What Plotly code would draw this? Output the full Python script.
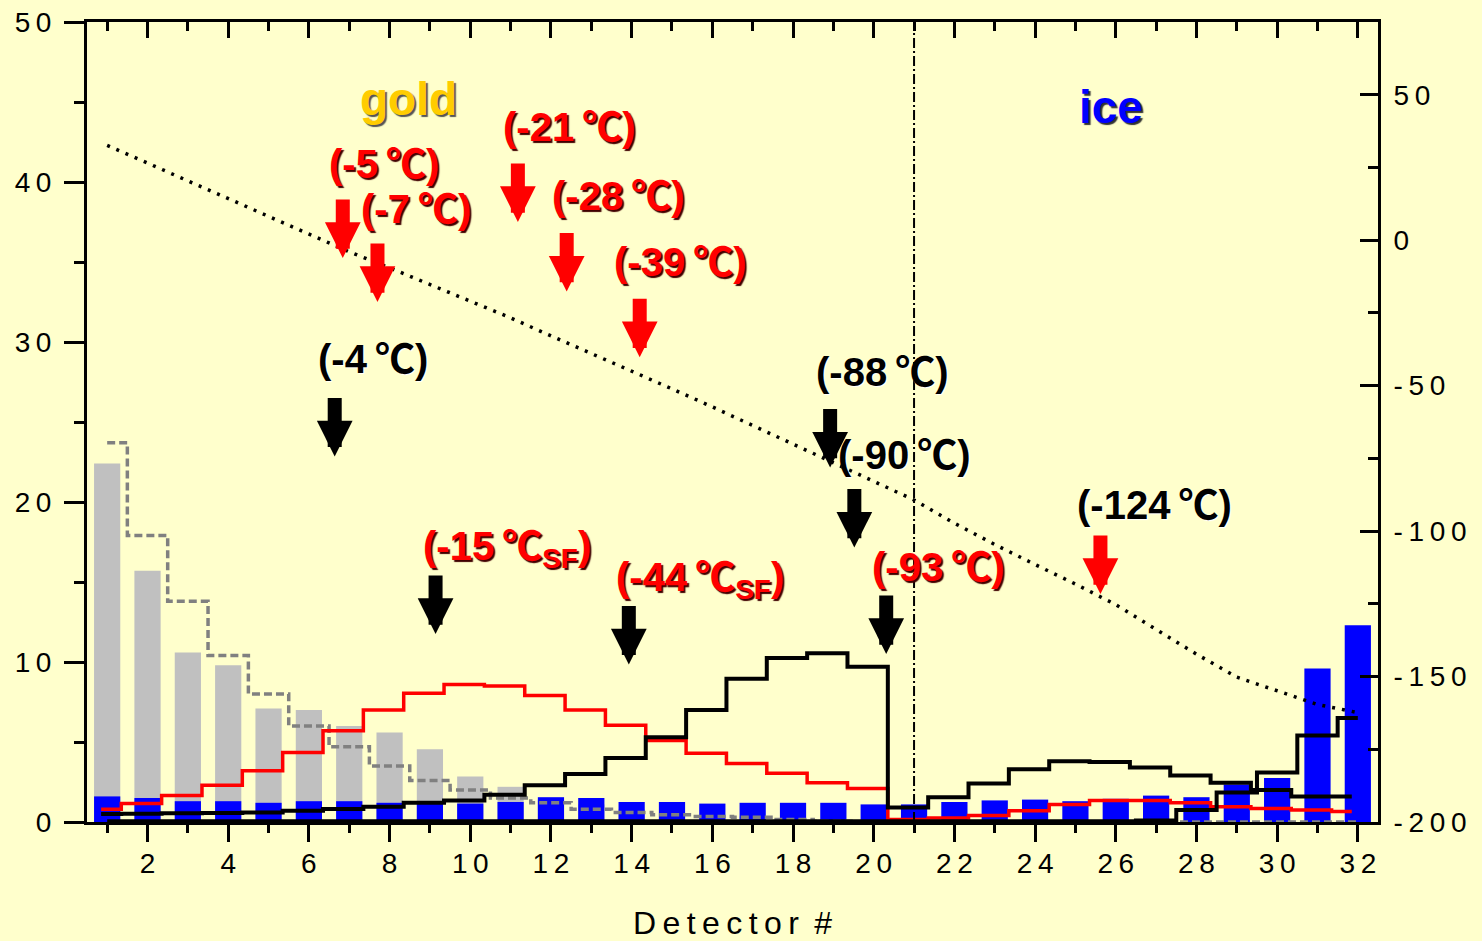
import plotly.graph_objects as go

# ---------------------------------------------------------------- data
detectors = list(range(1, 33))

# grey histogram (gold) and its dashed model staircase
gold_counts = [22.4, 15.7, 10.6, 9.8, 7.1, 7.0, 6.0, 5.6, 4.55, 2.85, 2.2,
               1.4, 1.1, 0.8, 0.6, 0.45, 0.35, 0.25, 0.1, 0.05, 0.0, 0.0,
               0.0, 0.0, 0.0, 0.0, 0.0, 0.0, 0.0, 0.0, 0.0, 0.0]
gold_model = [23.7, 17.9, 13.8, 10.4, 8.0, 6.0, 4.7, 3.5, 2.6, 2.0, 1.5,
              1.2, 0.8, 0.6, 0.45, 0.35, 0.3, 0.15, 0.05, 0.0, 0.0, 0.0,
              0.0, 0.0, 0.0, 0.0, 0.0, 0.0, 0.0, 0.0, 0.0, 0.0]

# blue histogram (ice)
ice_counts = [1.6, 1.5, 1.3, 1.3, 1.2, 1.3, 1.3, 1.2, 1.25, 1.15, 1.25,
              1.55, 1.5, 1.25, 1.25, 1.15, 1.2, 1.2, 1.2, 1.1, 1.1, 1.25,
              1.35, 1.4, 1.3, 1.45, 1.65, 1.55, 2.35, 2.75, 9.6, 12.3]

# step spectra
red_spectrum = [0.8, 1.15, 1.65, 2.3, 3.2, 4.35, 5.7, 7.0, 8.05, 8.6, 8.5,
                7.9, 7.0, 6.05, 5.1, 4.3, 3.65, 3.05, 2.45, 2.1, 0.15, 0.25,
                0.4, 0.7, 1.1, 1.35, 1.35, 1.2, 0.95, 0.85, 0.75, 0.65]
black_spectrum = [0.5, 0.52, 0.55, 0.57, 0.6, 0.7, 0.82, 0.95, 1.2, 1.35, 1.7,
                  2.3, 3.0, 4.0, 5.3, 7.0, 8.95, 10.25, 10.55, 9.7, 0.9, 1.55,
                  2.4, 3.3, 3.8, 3.75, 3.4, 2.9, 2.45, 2.0, 1.6, 1.6]
ice_spectrum = [0.05] * 26 + [0.1, 0.75, 1.85, 3.1, 5.4, 6.5]

# temperature profile along the detector row (right axis, deg C)
temperature = [32.6, 26.5, 20.4, 14.3, 8.2, 2.0, -4.0, -9.5, -15.2, -20.8,
               -26.7, -32.9, -38.9, -45.0, -51.1, -57.3, -63.7, -70.2, -76.6,
               -82.9, -89.3, -97.3, -104.6, -111.5, -118.2, -125.3, -133.9,
               -142.3, -150.2, -154.8, -159.6, -162.4]

x_ticks = list(range(2, 33, 2))
y_left_ticks = [0, 10, 20, 30, 40, 50]
y_right_ticks = [-200, -150, -100, -50, 0, 50]

# (text, detector, counts) for the temperature labels
red_labels = [("(-5℃)", 7.85, 41.3), ("(-7℃)", 8.65, 38.5),
              ("(-21℃)", 12.44, 43.6), ("(-28℃)", 13.66, 39.3),
              ("(-39℃)", 15.2, 35.2), ("(-15℃<sub>SF</sub>)", 10.9, 17.4),
              ("(-44℃<sub>SF</sub>)", 15.7, 15.45), ("(-93℃)", 21.6, 16.1)]
black_labels = [("(-4℃)", 7.58, 29.1), ("(-88℃)", 20.21, 28.3),
                ("(-90℃)", 20.76, 23.1), ("(-124℃)", 26.96, 20.0)]
# arrow tips (detector, counts)
red_arrows = [(6.84, 35.25), (7.7, 32.5), (11.18, 37.5), (12.39, 33.15),
              (14.2, 29.05), (25.62, 14.25)]
black_arrows = [(6.64, 22.85), (9.14, 11.75), (13.93, 9.85), (18.92, 22.15),
                (19.52, 17.15), (20.31, 10.5)]

# ---------------------------------------------------------------- style
BG = "#FFFFCC"
AXIS_FONT = "Liberation Sans, Arial, sans-serif"
LABEL_FONT = "Liberation Sans, Arial, sans-serif"
STEP_SHIFT = -0.15  # spectra are drawn slightly left of the bin centres


def spaced(s):
    return "\u2009".join(s)


def celsius(s):
    # full-width degree-Celsius glyph from the CJK face, set a little apart
    return s.replace("℃", "\u2009<span style=\"font-family:'Noto Sans CJK JP'\">℃</span>")


shifted = [d + STEP_SHIFT for d in detectors]

fig = go.Figure()

# dashed model staircase sits underneath the bars
fig.add_trace(go.Scatter(x=detectors, y=gold_model, mode="lines",
                         line=dict(color="#808080", width=3.5, dash="8px,4px", shape="hvh"),
                         xaxis="x", yaxis="y", hoverinfo="skip"))
fig.add_trace(go.Bar(x=detectors, y=gold_counts, width=0.65,
                     marker=dict(color="#C0C0C0", line=dict(width=0)),
                     xaxis="x", yaxis="y"))
fig.add_trace(go.Bar(x=detectors, y=ice_counts, width=0.65,
                     marker=dict(color="#0000FF", line=dict(width=0)),
                     xaxis="x", yaxis="y"))

# spectra on an overlay so they sit above the bars
fig.add_trace(go.Scatter(x=shifted, y=red_spectrum, mode="lines",
                         line=dict(color="#FF0000", width=3.5, shape="hvh"),
                         xaxis="x", yaxis="y3"))
fig.add_trace(go.Scatter(x=detectors, y=ice_spectrum, mode="lines",
                         line=dict(color="black", width=4, shape="hvh"),
                         xaxis="x", yaxis="y3"))
fig.add_trace(go.Scatter(x=shifted, y=black_spectrum, mode="lines",
                         line=dict(color="black", width=4, shape="hvh"),
                         xaxis="x", yaxis="y3"))

# temperature profile on the right axis (top/right frame subplot)
fig.add_trace(go.Scatter(x=detectors, y=temperature, mode="lines",
                         line=dict(color="black", width=3.5, dash="3px,7px"),
                         xaxis="x2", yaxis="y2"))

tick_font = dict(family=AXIS_FONT, size=28, color="black")
odd = list(range(1, 33, 2))

fig.update_layout(
    width=1482, height=941,
    margin=dict(l=87, r=104, t=22, b=119, pad=0),
    paper_bgcolor=BG, plot_bgcolor=BG,
    showlegend=False, barmode="overlay",
    xaxis=dict(range=[0.5, 32.5], tickmode="array", tickvals=x_ticks,
               ticktext=[spaced(str(v)) for v in x_ticks],
               ticks="outside", ticklen=17, tickwidth=3, tickcolor="black",
               minor=dict(tickmode="array", tickvals=odd,
                          ticks="outside", ticklen=8, tickwidth=3, tickcolor="black"),
               showline=True, linewidth=3, linecolor="black", automargin=False,
               ticklabelstandoff=-3,
               showgrid=False, zeroline=False, tickfont=tick_font,
               title=dict(text=spaced("Detector") + " \u2009#",
                          font=dict(family=AXIS_FONT, size=32, color="black"),
                          standoff=35)),
    xaxis2=dict(range=[0.5, 32.5], overlaying="x", side="top", anchor="y2",
                tickmode="array", tickvals=x_ticks, showticklabels=False,
                ticks="inside", ticklen=16, tickwidth=3, tickcolor="black",
                minor=dict(tickmode="array", tickvals=odd,
                           ticks="inside", ticklen=9, tickwidth=3, tickcolor="black"),
                showline=True, linewidth=3, linecolor="black", automargin=False,
                showgrid=False, zeroline=False),
    yaxis=dict(range=[0, 50], tickmode="array", tickvals=y_left_ticks,
               ticktext=[spaced(str(v)) for v in y_left_ticks],
               ticks="outside", ticklen=20, tickwidth=3, tickcolor="black",
               minor=dict(tickmode="array", tickvals=[5, 15, 25, 35, 45],
                          ticks="outside", ticklen=10, tickwidth=3, tickcolor="black"),
               showline=True, linewidth=3, linecolor="black", automargin=False,
               ticklabelstandoff=7,
               showgrid=False, zeroline=False, tickfont=tick_font),
    yaxis2=dict(range=[-200, 75], overlaying="y", side="right", anchor="x2",
                tickmode="array", tickvals=y_right_ticks,
                ticktext=[spaced(str(v)) for v in y_right_ticks],
                ticks="inside", ticklen=18, tickwidth=3, tickcolor="black",
                minor=dict(tickmode="array", tickvals=[-175, -125, -75, -25, 25],
                           ticks="inside", ticklen=10, tickwidth=3, tickcolor="black"),
                showline=True, linewidth=3, linecolor="black", automargin=False,
                ticklabelstandoff=7,
                showgrid=False, zeroline=False, tickfont=tick_font),
    yaxis3=dict(range=[0, 50], overlaying="y", visible=False, automargin=False),
)

# boundary between the gold and ice sections
fig.add_shape(type="line", xref="x", yref="paper", x0=21, x1=21, y0=0, y1=1,
              line=dict(color="black", width=2, dash="10px,3px,2px,3px"))

annotations = []
annotations.append(dict(text="gold", x=8.47, y=45.2, xref="x", yref="y", showarrow=False,
                        font=dict(family=LABEL_FONT, size=46, color="#FFCC00", weight="bold",
                                  shadow="2px 2px 1px #555555")))
annotations.append(dict(text="ice", x=25.89, y=44.7, xref="x", yref="y", showarrow=False,
                        font=dict(family=LABEL_FONT, size=46, color="#0000FF", weight="bold",
                                  shadow="2px 2px 1px #333333")))
for text, xd, yd in red_labels:
    annotations.append(dict(text=celsius(text), x=xd, y=yd, xref="x", yref="y", showarrow=False,
                            font=dict(family=LABEL_FONT, size=40, color="#FF0000", weight="bold",
                                      shadow="2px 2px 1px #400000")))
for text, xd, yd in black_labels:
    annotations.append(dict(text=celsius(text), x=xd, y=yd, xref="x", yref="y", showarrow=False,
                            font=dict(family=LABEL_FONT, size=40, color="black", weight="bold",
                                      shadow="1px 1px 1px #FFFFFF")))
for color, tips in (("#FF0000", red_arrows), ("black", black_arrows)):
    for xd, yd in tips:
        annotations.append(dict(text="", x=xd, y=yd, xref="x", yref="y",
                                showarrow=True, ax=0, ay=-60, arrowhead=2,
                                arrowwidth=14, arrowsize=0.51, arrowcolor=color,
                                standoff=0))
fig.update_layout(annotations=annotations)

fig.write_html("out.html")
